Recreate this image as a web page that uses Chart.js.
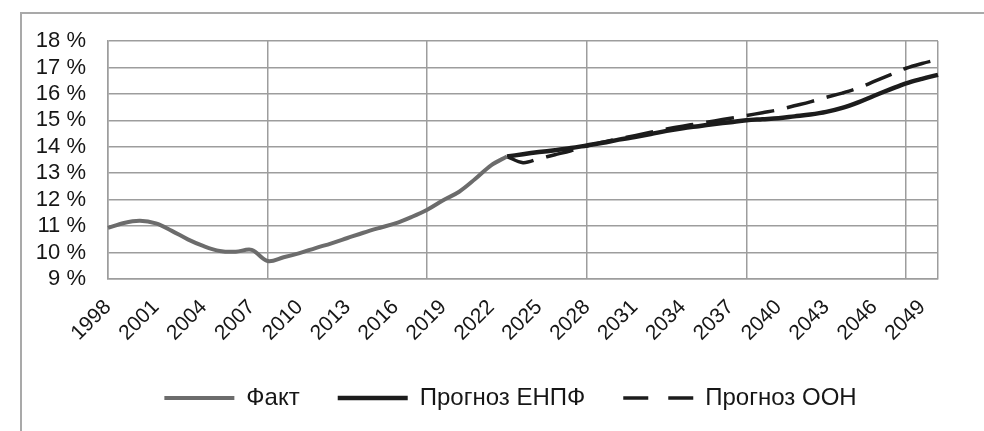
<!DOCTYPE html>
<html lang="ru">
<head>
<meta charset="utf-8">
<script src="https://cdn.jsdelivr.net/npm/chart.js@4.4.1/dist/chart.umd.min.js"></script>
<style>
  html, body { margin: 0; padding: 0; background: #fff; }
  #wrap { position: relative; width: 984px; height: 431px; }
  #frame { position: absolute; left: 20px; top: 12px; right: 0; bottom: 0;
           border-left: 2px solid #a9a9a9; border-top: 2px solid #a9a9a9; }
  canvas { position: absolute; left: 0; top: 0; }
</style>
</head>
<body>
<div id="wrap">
  <div id="frame"></div>
  <canvas id="chart" width="984" height="431"></canvas>
</div>
<script>
// years on the x axis (1998 - 2050)
const years = [];
for (let y = 1998; y <= 2050; y++) years.push(String(y));

// Факт, 1998 - 2023
const factStart = '1998';
const factValues = [10.93, 11.12, 11.2, 11.1, 10.82, 10.5, 10.24, 10.06, 10.03, 10.1,
  9.68, 9.82, 9.98, 10.17, 10.35, 10.55, 10.75, 10.93, 11.1, 11.34,
  11.62, 11.98, 12.3, 12.78, 13.3, 13.63];

// Прогноз ЕНПФ, 2023 - 2050
const enpfStart = '2023';
const enpfValues = [13.63, 13.72, 13.8, 13.87, 13.95, 14.05, 14.15, 14.27, 14.37, 14.48,
  14.6, 14.7, 14.78, 14.86, 14.93, 15.0, 15.04, 15.08, 15.15, 15.22,
  15.32, 15.47, 15.68, 15.93, 16.17, 16.4, 16.57, 16.72];

// Прогноз ООН, 2023 - 2050
const unStart = '2023';
const unValues = [13.63, 13.4, 13.55, 13.7, 13.85, 14.03, 14.17, 14.3, 14.42, 14.55,
  14.67, 14.78, 14.88, 14.98, 15.08, 15.18, 15.29, 15.4, 15.55, 15.7,
  15.87, 16.03, 16.22, 16.47, 16.72, 16.97, 17.15, 17.3];

const yTicks = [9, 10, 11, 12, 13, 14, 15, 16, 17, 18];

// put a series on the full year axis, null outside its range
function placeSeries(start, values) {
  const offset = years.indexOf(start);
  return years.map((y, i) => {
    const k = i - offset;
    return k >= 0 && k < values.length ? values[k] : null;
  });
}

const gridColor = '#9d9d9d';
const textColor = '#161616';
Chart.defaults.font.family = "'Liberation Sans', Arial, sans-serif";

// legend sits a bit right of the page centre, like in the original
const legendShift = {
  id: 'legendShift',
  afterLayout(chart) {
    chart.legend.left = 83;
    chart.legend.right = 938;
  },
};

const ctx = document.getElementById('chart').getContext('2d');
new Chart(ctx, {
  type: 'line',
  data: {
    labels: years,
    datasets: [
      {
        label: 'Факт',
        data: placeSeries(factStart, factValues),
        borderColor: '#6c6c6c',
        backgroundColor: '#6c6c6c',
        borderWidth: 4,
        tension: 0.35,
        pointRadius: 0,
        pointStyle: 'line',
        fill: false,
      },
      {
        label: 'Прогноз ЕНПФ',
        data: placeSeries(enpfStart, enpfValues),
        borderColor: '#1c1c1c',
        backgroundColor: '#1c1c1c',
        borderWidth: 4.5,
        tension: 0.35,
        pointRadius: 0,
        pointStyle: 'line',
        fill: false,
      },
      {
        label: 'Прогноз ООН',
        data: placeSeries(unStart, unValues),
        borderColor: '#1c1c1c',
        backgroundColor: '#1c1c1c',
        borderWidth: 3.5,
        borderDash: [28, 13],
        tension: 0.35,
        pointRadius: 0,
        pointStyle: 'line',
        fill: false,
      },
    ],
  },
  options: {
    responsive: false,
    animation: false,
    devicePixelRatio: 1,
    layout: { padding: { left: 10, right: 46, top: 41, bottom: 11 } },
    plugins: {
      tooltip: { enabled: false },
      legend: {
        position: 'bottom',
        labels: {
          usePointStyle: true,
          pointStyleWidth: 70,
          padding: 38,
          color: textColor,
          font: { size: 24 },
          generateLabels: (chart) => {
            const items = Chart.defaults.plugins.legend.labels.generateLabels(chart);
            items[2].lineDash = [25, 20];
            return items;
          },
        },
      },
    },
    scales: {
      x: {
        grid: {
          color: (c) => (c.index % 10 === 0 || c.index === years.length - 1) ? gridColor : 'rgba(0,0,0,0)',
          lineWidth: 1.5,
          drawTicks: false,
        },
        border: { color: gridColor, width: 1.5 },
        ticks: {
          autoSkip: false,
          minRotation: 45,
          maxRotation: 45,
          padding: 16,
          color: textColor,
          font: { size: 21 },
          callback: (v, i) => (i % 3 === 0 ? years[i] : ''),
        },
        afterFit: (s) => { s.height = 69; },
      },
      y: {
        min: yTicks[0],
        max: yTicks[yTicks.length - 1],
        grid: { color: gridColor, lineWidth: 1.5, drawTicks: false },
        border: { color: gridColor, width: 1.5 },
        afterBuildTicks: (s) => { s.ticks = yTicks.map(v => ({ value: v })); },
        ticks: {
          autoSkip: false,
          padding: 22,
          color: textColor,
          font: { size: 22 },
          callback: (v) => v + ' %',
        },
        afterFit: (s) => { s.width = 98; },
      },
    },
  },
  plugins: [legendShift],
});
</script>
</body>
</html>
